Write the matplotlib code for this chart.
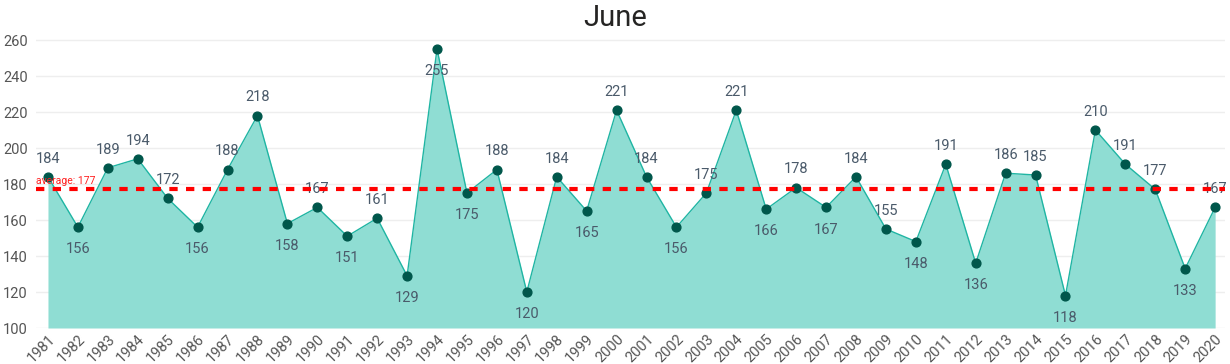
import matplotlib.pyplot as plt
import numpy as np

# 6월 값 (1981-2020)
years = list(range(1981, 2021))
values = [184, 156, 189, 194, 172, 156, 188, 218, 158, 167,
          151, 161, 129, 255, 175, 188, 120, 184, 165, 221,
          184, 156, 175, 221, 166, 178, 167, 184, 155, 148,
          191, 136, 186, 185, 118, 210, 191, 177, 133, 167]
below = [1982, 1986, 1989, 1991, 1993, 1994, 1995, 1997, 1999, 2002,
         2005, 2007, 2010, 2012, 2015, 2019]
average = 177

plt.rcParams['font.family'] = ['Roboto', 'DejaVu Sans']

fig = plt.figure(figsize=(12.3, 3.64), dpi=100)
ax = fig.add_axes([36 / 1230, 1 - 328 / 364, (1225 - 36) / 1230, (328 - 40) / 364 * 162 / 160])

x = np.arange(len(years))
ax.fill_between(x, values, 100, color='#8fddd3', linewidth=0, zorder=1)
ax.plot(x, values, color='#1fb5a3', linewidth=1, zorder=2)
ax.scatter(x, values, color='#00574b', s=40, zorder=3)

for xi, yr, v in zip(x, years, values):
    if yr in below:
        ax.annotate(str(v), (xi, v), xytext=(0, -11), textcoords='offset points',
                    ha='center', va='top', fontsize=10.5, color='#4a5a6a')
    else:
        ax.annotate(str(v), (xi, v), xytext=(0, 8), textcoords='offset points',
                    ha='center', va='bottom', fontsize=10.5, color='#4a5a6a')

ax.axhline(average, color='#ff0000', linestyle=(0, (2, 2)), linewidth=3, zorder=4)
ax.text(-0.4, average + 2, 'average: 177', color='#ff2020', fontsize=7.5,
        ha='left', va='bottom')

ax.set_xlim(-0.4, 39.33)
ax.set_ylim(100, 262)
ax.set_yticks(range(100, 261, 20))
ax.set_xticks(x)
ax.set_xticklabels([str(y) for y in years], rotation=45, ha='right',
                   rotation_mode='anchor', fontsize=10.5, color='#555555')
ax.tick_params(axis='y', labelsize=10.5, labelcolor='#555555', length=0, pad=6)
ax.tick_params(axis='x', length=0, pad=3)
ax.grid(axis='y', color='#eeeeee', linewidth=1)
ax.set_axisbelow(True)
for s in ax.spines.values():
    s.set_visible(False)

fig.text(0.5, 1 - 18 / 364, 'June', ha='center', va='center', fontsize=21, color='#252423')

fig.savefig('out.png', dpi=100)
